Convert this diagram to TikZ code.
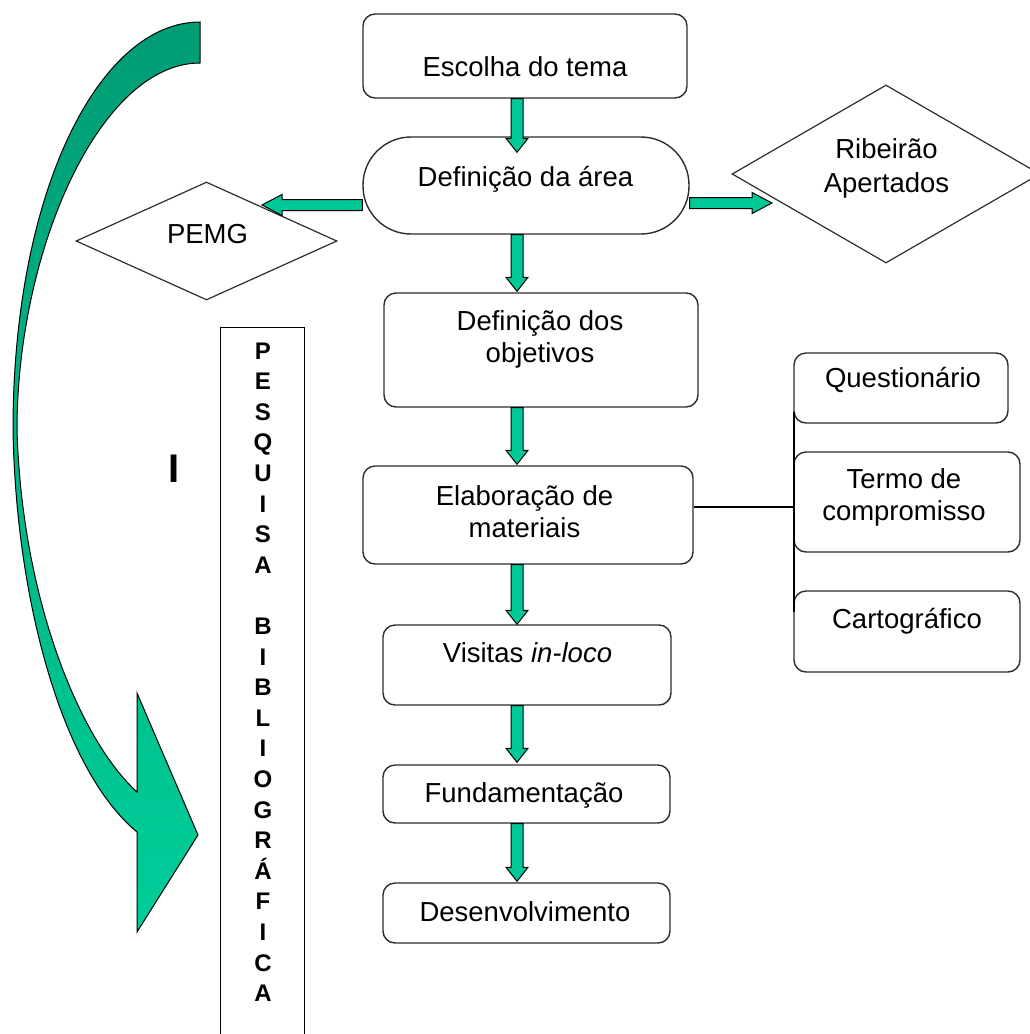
\documentclass[tikz,border=0pt]{standalone}
\usepackage{fontspec}
\setmainfont{Liberation Sans}
\usetikzlibrary{shapes.geometric,calc}
\definecolor{arrowgreen}{RGB}{0,200,150}
\definecolor{topgreen}{RGB}{0,156,116}
\definecolor{botgreen}{RGB}{0,206,154}
\definecolor{edgegray}{RGB}{45,45,45}
\tikzset{
  box/.style={draw=edgegray, line width=1.4pt, rounded corners=12pt, inner sep=0pt},
  diam/.style={draw=edgegray, line width=1.2pt, diamond, inner sep=0pt},
  txt/.style={anchor=base, inner sep=0pt, font=\fontsize{27.5}{32}\selectfont},
  letter/.style={anchor=base, inner sep=0pt, font=\bfseries\fontsize{24}{24}\selectfont},
  blockarrow/.style={draw=black, line width=1pt, fill=arrowgreen, line join=miter},
  link/.style={draw=black, line width=1.3pt}
}
% vertical block arrow from #1 down to tip #2
\newcommand\downblock[2]{\draw[blockarrow] let \p1=(#1), \p2=(#2) in
  (\x1-6pt,\y1) -- (\x1-6pt,\y2+14pt) -- (\x1-11pt,\y2+14pt) -- (\x1,\y2)
  -- (\x1+11pt,\y2+14pt) -- (\x1+6pt,\y2+14pt) -- (\x1+6pt,\y1) -- cycle;}
% horizontal block arrow from #1 to tip #2, #3 = 1 (right) or -1 (left)
\newcommand\sideblock[3]{\draw[blockarrow] let \p1=(#1), \p2=(#2), \n1={#3*20} in
  (\x1,\y2+5.5pt) -- ({\x2-\n1*1pt},\y2+5.5pt) -- ({\x2-\n1*1pt},\y2+10.5pt) -- (\x2,\y2)
  -- ({\x2-\n1*1pt},\y2-10.5pt) -- ({\x2-\n1*1pt},\y2-5.5pt) -- (\x1,\y2-5.5pt) -- cycle;}
\begin{document}
\begin{tikzpicture}[x=1pt,y=-1pt]
\useasboundingbox (0,0) rectangle (1029,1034);

% curved arrow
\draw[top color=topgreen, bottom color=botgreen, draw=black, line width=1pt] (200,22)
  .. controls (100,22) and (13,190) .. (13,430)
  .. controls (16,600) and (62,770) .. (137,832)
  -- (137,932) -- (198,835) -- (137,693) -- (137,792)
  .. controls (80,740) and (22,600) .. (17,430)
  .. controls (17,250) and (100,63) .. (200,63) -- cycle;

% main boxes
\node[box, minimum width=324pt, minimum height=84pt] (esc) at (525,56) {};
\node[box, rounded corners=48pt, minimum width=326pt, minimum height=97pt] (area) at (526,185.5) {};
\node[box, minimum width=314pt, minimum height=114pt] (obj) at (541,350) {};
\node[box, minimum width=330pt, minimum height=98pt] (elab) at (528,515) {};
\node[box, minimum width=288pt, minimum height=80pt] (vis) at (527,665) {};
\node[box, minimum width=287pt, minimum height=58pt] (fund) at (526.5,794) {};
\node[box, minimum width=287pt, minimum height=60pt] (desen) at (526.5,913) {};

% side boxes
\node[box, minimum width=214pt, minimum height=70pt] (quest) at (901,388) {};
\node[box, minimum width=226pt, minimum height=100pt] (termo) at (907,502) {};
\node[box, minimum width=226pt, minimum height=81pt] (carto) at (907,631.5) {};

% diamonds
\node[diam, minimum width=261pt, minimum height=118pt] (pemg) at (206.5,241) {};
\node[diam, minimum width=308pt, minimum height=178pt] (rib) at (886,174) {};

% vertical research box
\node[draw=black, line width=1.3pt, minimum width=84pt, minimum height=730pt, anchor=north west, inner sep=0pt] (pbox) at (220,327) {};
\foreach \ch [count=\i] in {P,E,S,Q,U,I,S,A,{},B,I,B,L,I,O,G,R,Á,F,I,C,A}
  \node[letter] (L\i) at (263,{328.4+30.6*\i}) {\ch};

\node[anchor=base, inner sep=0pt, font=\bfseries\fontsize{40}{40}\selectfont] (cursor) at (174,482) {I};

% texts
\node[txt] (tesc) at (525,76) {Escolha do tema};
\node[txt] (tarea) at (525.5,186) {Definição da área};
\node[txt] (tobj) at (540,330) {\begin{tabular}[t]{@{}c@{}}Definição dos\\objetivos\end{tabular}};
\node[txt] (telab) at (524.5,505) {\begin{tabular}[t]{@{}c@{}}Elaboração de\\materiais\end{tabular}};
\node[txt] (tvis) at (527.5,662) {Visitas \textit{in-loco}};
\node[txt] (tfund) at (524,802) {Fundamentação};
\node[txt] (tdesen) at (525,921) {Desenvolvimento};
\node[txt] (tquest) at (903,387) {Questionário};
\node[txt] (ttermo) at (904,488) {\begin{tabular}[t]{@{}c@{}}Termo de\\compromisso\end{tabular}};
\node[txt] (tcarto) at (907,628) {Cartográfico};
\node[txt, font=\fontsize{27.5}{34}\selectfont] (trib) at (886.5,158) {\begin{tabular}[t]{@{}c@{}}Ribeirão\\Apertados\end{tabular}};
\node[txt] (tpemg) at (207.5,243) {PEMG};

% connector lines to side boxes
\coordinate (vtop) at (794,412);
\coordinate (vbot) at (794,612);
\coordinate (hy) at (0,507);
\draw[link] (vtop) -- (vbot);
\draw[link] (elab.east |- hy) -- (vtop |- hy);

% block arrows
\coordinate (ax) at (517,0);
\coordinate (ltip) at (262,205);
\coordinate (rtip) at (772,203);
\downblock{esc.south -| ax}{$(area.north -| ax)+(0,16)$}
\downblock{area.south -| ax}{$(obj.north -| ax)+(0,-1)$}
\downblock{obj.south -| ax}{$(elab.north -| ax)+(0,-1)$}
\downblock{elab.south -| ax}{vis.north -| ax}
\downblock{vis.south -| ax}{$(fund.north -| ax)+(0,-2)$}
\downblock{fund.south -| ax}{$(desen.north -| ax)+(0,-1)$}
\sideblock{area.west |- ltip}{ltip}{-1}
\sideblock{area.east |- rtip}{rtip}{1}
\end{tikzpicture}
\end{document}
